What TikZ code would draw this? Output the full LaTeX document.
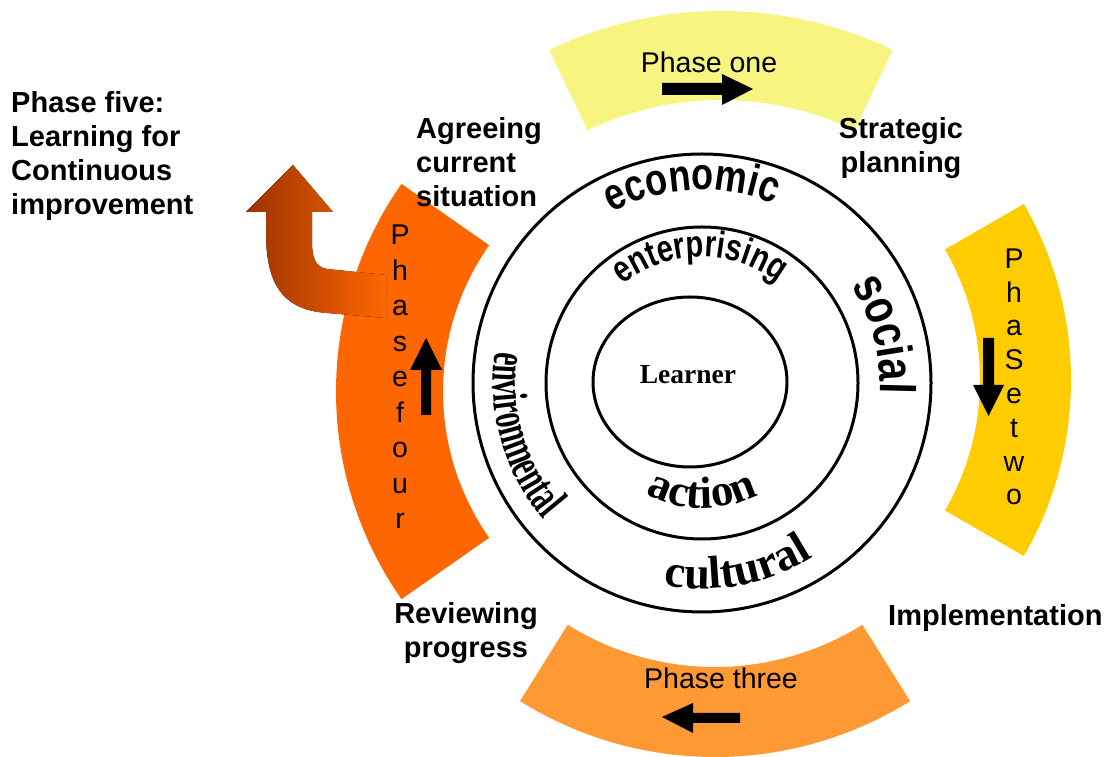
\documentclass[tikz,border=0pt]{standalone}
\usepackage{fontspec}
\setmainfont{Liberation Sans}
\newfontfamily\tnr{Liberation Serif}
\usetikzlibrary{calc,decorations.text}
\definecolor{p1col}{HTML}{F7F480}
\definecolor{p2col}{HTML}{FFCC00}
\definecolor{p3col}{HTML}{FF9933}
\definecolor{p4col}{HTML}{FF6600}
\definecolor{p5dark}{HTML}{993300}
\begin{document}
\begin{tikzpicture}[x=1pt,y=1pt,
  lbl/.style={font=\fontsize{29}{34}\selectfont\bfseries, inner sep=0pt},
  phtext/.style={font=\fontsize{28.5}{30}\selectfont, inner sep=0pt},
  ring/.style={draw=black, line width=3pt},
  blockarrow/.style={fill=black}]
\useasboundingbox (0,0) rectangle (1105,757);
% centres
\coordinate (C) at (702,374);
\coordinate (P1c) at (721,347);
\coordinate (P2c) at (719,377);
\coordinate (P3c) at (715,368);
\coordinate (P4c) at (698,365.5);
% phase sectors
\fill[p1col] ($(P1c)+(64.5:399)$) arc[start angle=64.5, end angle=115.5, radius=399]
  -- ($(P1c)+(115.5:310)$) arc[start angle=115.5, end angle=64.5, radius=310] -- cycle;
\fill[p2col] ($(P2c)+(-30:352)$) arc[start angle=-30, end angle=30, radius=352]
  -- ($(P2c)+(30:261)$) arc[start angle=30, end angle=-30, radius=261] -- cycle;
\fill[p3col] ($(P3c)+(238:368)$) arc[start angle=238, end angle=302, radius=368]
  -- ($(P3c)+(302:278)$) arc[start angle=302, end angle=238, radius=278] -- cycle;
\fill[p4col] ($(P4c)+(145:362)$) arc[start angle=145, end angle=215, radius=362]
  -- ($(P4c)+(215:255)$) arc[start angle=215, end angle=145, radius=255] -- cycle;
% phase five arrow
\fill[left color=p5dark, right color=p4col]
  (266,545) -- (266,524) .. controls (266,470) and (285,447) .. (327,444)
  -- (386,439) -- (386,482) -- (327,488) .. controls (315,490) and (312,500) .. (312,515)
  -- (312,545) -- (333,545) -- (293,592) -- (246,545) -- cycle;
% rings
\draw[ring] (C) circle[radius=229];
\draw[ring] (C) circle[radius=156];
\draw[ring] (690,375) ellipse[x radius=97, y radius=85];
\node[font=\tnr\bfseries\fontsize{27.5}{30}\selectfont, anchor=base, inner sep=0pt] (learner) at (688,373) {Learner};
% curved words
\path[decorate, decoration={text effects along path, text={economic}, text align=center,
  text effects/.cd, text along path, characters={font=\fontsize{36}{36}\selectfont\bfseries, yscale=1.25}}]
  ($(C)+(140:193)$) arc[start angle=140, end angle=46, radius=193];
\path[decorate, decoration={text effects along path, text={enterprising}, text align=center,
  text effects/.cd, text along path, characters={font=\fontsize{29}{29}\selectfont\bfseries, yscale=1.3}}]
  ($(C)+(150:126)$) arc[start angle=150, end angle=32, radius=126];
\path[decorate, decoration={text effects along path, text={social}, text align=center,
  text effects/.cd, text along path, characters={font=\fontsize{40}{40}\selectfont\bfseries, yscale=1.25}}]
  ($(C)+(60:178)$) arc[start angle=60, end angle=-30, radius=178];
\path[decorate, decoration={text effects along path, text={cultural}, text align=center,
  text effects/.cd, text along path, characters={font=\tnr\bfseries\fontsize{46}{46}\selectfont}}]
  ($(C)+(230:206)$) arc[start angle=230, end angle=332, radius=206];
\path[decorate, decoration={text effects along path, text={action}, text align=center,
  text effects/.cd, text along path, characters={font=\tnr\bfseries\fontsize{45}{45}\selectfont}}]
  ($(C)+(220:125)$) arc[start angle=220, end angle=320, radius=125];
\path[decorate, decoration={text effects along path, text={environmental}, text align=center,
  text effects/.cd, text along path, characters={font=\tnr\bfseries\fontsize{29}{29}\selectfont, yscale=1.7}}]
  ($(C)+(150:209)$) arc[start angle=150, end angle=242, radius=209];
% black block arrows
\fill[blockarrow] (662,674) -- (722,674) -- (722,683) -- (753,668) -- (722,652) -- (722,662) -- (662,662) -- cycle;
\fill[blockarrow] (662,40) -- (693,54) -- (693,44) -- (740,44) -- (740,34) -- (693,34) -- (693,24) -- cycle;
\fill[blockarrow] (983,419) -- (994,419) -- (994,372) -- (1004,372) -- (988.5,341) -- (973,372) -- (983,372) -- cycle;
\fill[blockarrow] (426,419) -- (442,387) -- (431,387) -- (431,342) -- (421,342) -- (421,387) -- (410,387) -- cycle;
% phase texts
\node[phtext, anchor=base] (ph1) at (709,684.3) {Phase one};
\node[phtext, anchor=base] (ph3) at (721,68) {Phase three};
\foreach \ch [count=\i from 0] in {P,h,a,S,e,t,w,o}
  \node[phtext, anchor=base] (ph2l\i) at (1014,488.7-33.8*\i) {\ch};
\foreach \ch [count=\i from 0] in {P,h,a,s,e,f,o,u,r}
  \node[phtext, anchor=base] (ph4l\i) at (400,512-35.5*\i) {\ch};
% labels
\node[lbl, anchor=north west, align=left] (five) at (11,666) {Phase five:\\Learning for\\Continuous\\improvement};
\node[lbl, anchor=north west, align=left] (agree) at (416,640) {Agreeing\\current\\situation};
\node[lbl, anchor=north, align=center] (strat) at (901,640) {Strategic\\planning};
\node[lbl, anchor=north, align=center] (review) at (466,155) {Reviewing\\progress};
\node[lbl, anchor=base west] (impl) at (888,131) {Implementation};
\end{tikzpicture}
\end{document}
